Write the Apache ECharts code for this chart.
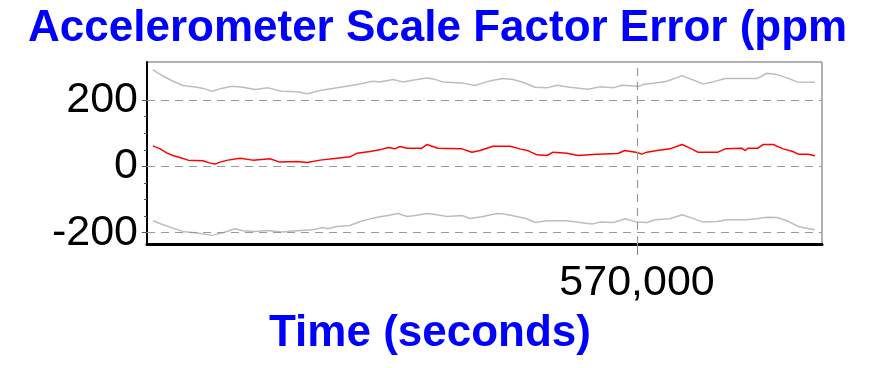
<!DOCTYPE html>
<html>
<head>
<meta charset="utf-8">
<script src="https://cdn.jsdelivr.net/npm/echarts@6/dist/echarts.min.js"></script>
<style>
html,body{margin:0;padding:0;background:#fff;}
#chart{width:873px;height:368px;}
</style>
</head>
<body>
<div id="chart"></div>
<script>
// ---- Data (time in seconds, values in ppm) ----
const titleText = 'Accelerometer Scale Factor Error (ppm';
const xAxisName = 'Time (seconds)';
const xTickValues = [570000];
const yTickValues = [-200, 0, 200];
const yMinorTickValues = [-150, -100, -50, 50, 100, 150];

const upperT = [560120,560220,560370,560530,560730,561020,561180,561330,561490,561730,561960,562200,562470,562750,563060,563270,563530,563880,564290,564610,564750,565020,565220,565510,565710,565840,566040,566430,566690,566860,567060,567270,567470,567670,567920,568160,568370,568630,569000,569240,569510,569690,570060,570120,570370,570610,570920,571120,571350,571550,571800,572450,572650,572860,573060,573270,573630];
const upperV = [292,282,269,257,244,239,234,227,234,242,239,232,237,227,225,219,229,237,247,257,255,262,255,262,267,264,255,252,244,252,260,265,262,254,239,237,245,239,233,240,237,245,242,247,252,257,274,262,249,255,265,265,281,277,267,255,254];

const meanT = [560120,560270,560410,560530,560670,560840,561140,561290,561390,561490,561650,561900,562160,562510,562710,563060,563270,563530,563880,564140,564290,564550,564750,564920,565060,565160,565310,565610,565710,565940,566430,566630,566800,567060,567410,567610,567780,567960,568160,568290,568570,568800,569180,569610,569650,569750,570000,570100,570200,570410,570670,570920,571080,571240,571650,571800,572140,572200,572270,572470,572570,572780,572980,573180,573290,573490,573630];
const meanV = [62,53,40,33,27,19,17,10,7,13,19,25,19,23,13,15,12,19,25,29,40,45,50,57,53,60,55,55,66,55,53,43,48,61,61,53,47,35,33,43,40,33,37,39,42,48,42,37,43,48,53,66,55,43,43,53,55,48,55,55,66,66,53,45,37,37,32];

const lowerT = [560120,560330,560530,560730,561020,561330,561530,561800,561960,562200,562450,562750,563060,563390,563590,563690,563880,564140,564350,564610,564750,564920,565120,565310,565470,565710,565920,566120,566430,566590,566860,567140,567310,567470,567750,567920,568160,568570,568840,569080,569240,569510,569650,569750,570000,570200,570370,570670,570920,571120,571350,571630,571840,572240,572450,572650,572860,573060,573290,573430,573630];
const lowerV = [-164,-176,-186,-196,-201,-208,-201,-188,-194,-196,-193,-198,-194,-191,-184,-188,-181,-178,-166,-156,-152,-148,-142,-151,-148,-142,-146,-151,-148,-157,-151,-142,-144,-149,-158,-169,-164,-164,-169,-174,-168,-169,-163,-158,-168,-169,-161,-158,-146,-156,-168,-166,-161,-161,-158,-153,-154,-164,-181,-186,-191];

const zip = (t, v) => t.map((x, i) => [x, v[i]]);

const FONT = "'Liberation Sans', Arial, sans-serif";
const chart = echarts.init(document.getElementById('chart'), null, {renderer: 'canvas'});

const option = {
  backgroundColor: '#ffffff',
  animation: false,
  title: {
    text: titleText,
    left: 28,
    top: 7,
    padding: 0,
    textStyle: {fontFamily: FONT, fontSize: 44, fontWeight: 'bold', color: '#0000ff'}
  },
  grid: {
    left: 147, right: 51, top: 62, bottom: 124,
    show: true, borderColor: '#666', borderWidth: 1, backgroundColor: '#fff'
  },
  xAxis: {
    type: 'value',
    min: 560000, max: 573775,
    name: xAxisName,
    nameLocation: 'middle',
    nameGap: 68,
    nameTextStyle: {fontFamily: FONT, fontSize: 44, fontWeight: 'bold', color: '#0000ff', padding: [0, 109, 0, 0]},
    axisLine: {show: true, onZero: false, lineStyle: {color: '#000', width: 3}},
    axisTick: {show: true, customValues: xTickValues, length: 11, lineStyle: {color: '#888', width: 1}},
    axisLabel: {
      show: true, customValues: xTickValues, margin: 18,
      fontFamily: FONT, fontSize: 43, color: '#000',
      formatter: v => Number(v).toLocaleString('en-US')
    },
    splitLine: {show: false}
  },
  yAxis: [{
    type: 'value',
    min: -234, max: 315,
    axisLine: {show: true, onZero: false, lineStyle: {color: '#000', width: 2}},
    axisTick: {show: true, customValues: yTickValues, length: 5, lineStyle: {color: '#555'}},
    axisLabel: {show: true, customValues: yTickValues, margin: 9, fontFamily: FONT, fontSize: 43, color: '#000'},
    splitLine: {show: false}
  }, {
    type: 'value',
    min: -234, max: 315,
    position: 'left',
    axisLine: {show: false},
    axisTick: {show: true, customValues: yMinorTickValues, length: 3, lineStyle: {color: '#555'}},
    axisLabel: {show: false},
    splitLine: {show: false}
  }],
  series: [
    {
      type: 'line', name: 'upper', data: zip(upperT, upperV), showSymbol: false,
      lineStyle: {color: '#bdbdbd', width: 1.5}, z: 3,
      markLine: {
        silent: true, symbol: ['none', 'none'], label: {show: false},
        lineStyle: {color: '#999', type: [8, 6], width: 1.2},
        data: [{yAxis: -200}, {yAxis: 0}, {yAxis: 200}, {xAxis: 570000}]
      }
    },
    {
      type: 'line', name: 'mean', data: zip(meanT, meanV), showSymbol: false,
      lineStyle: {color: '#ff0000', width: 1.5}, z: 4
    },
    {
      type: 'line', name: 'lower', data: zip(lowerT, lowerV), showSymbol: false,
      lineStyle: {color: '#bdbdbd', width: 1.5}, z: 3
    }
  ]
};
chart.setOption(option);
</script>
</body>
</html>
